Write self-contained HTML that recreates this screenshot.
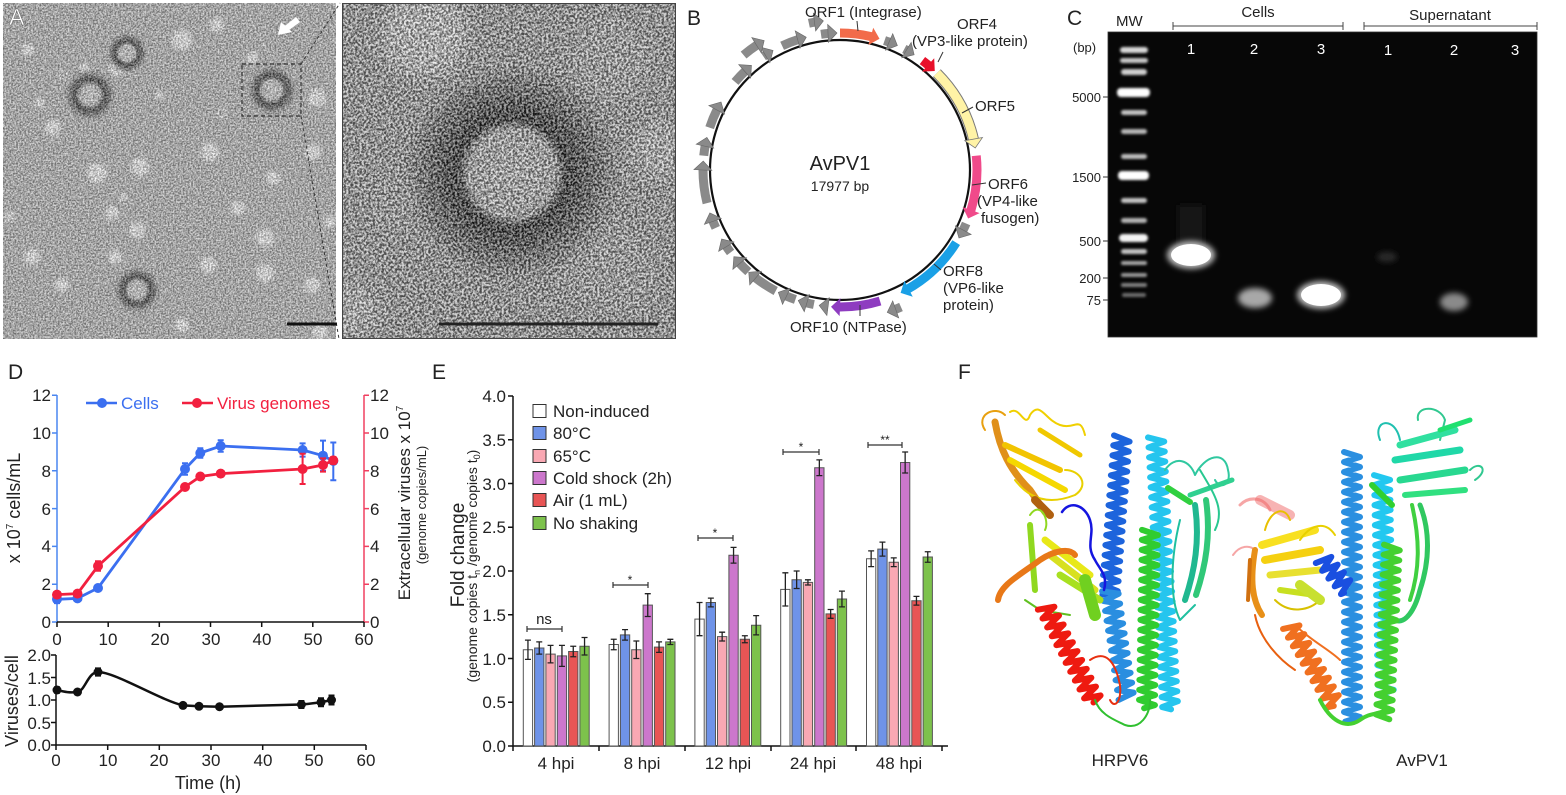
<!DOCTYPE html>
<html><head><meta charset="utf-8"><style>
html,body{margin:0;padding:0;background:#fff;width:1566px;height:795px;overflow:hidden;}
svg{display:block;font-family:"Liberation Sans",Arial,sans-serif;}
</style></head><body>
<svg width="1566" height="795" viewBox="0 0 1566 795" xmlns="http://www.w3.org/2000/svg">
<defs>
<filter id="nz1" x="0" y="0" width="100%" height="100%" color-interpolation-filters="sRGB"><feTurbulence type="fractalNoise" baseFrequency="0.6" numOctaves="3" seed="4"/><feColorMatrix type="matrix" values="2.2 0 0 0 -0.6  2.2 0 0 0 -0.6  2.2 0 0 0 -0.6  0 0 0 0 0.42"/></filter>
<filter id="nz2" x="0" y="0" width="100%" height="100%" color-interpolation-filters="sRGB"><feTurbulence type="fractalNoise" baseFrequency="0.45" numOctaves="3" seed="9"/><feColorMatrix type="matrix" values="2.8 0 0 0 -0.9  2.8 0 0 0 -0.9  2.8 0 0 0 -0.9  0 0 0 0 0.55"/></filter>
<filter id="b1" x="-50%" y="-50%" width="200%" height="200%"><feGaussianBlur stdDeviation="1.5"/></filter>
<filter id="b6" x="-50%" y="-50%" width="200%" height="200%"><feGaussianBlur stdDeviation="7"/></filter>
<filter id="gl" x="-50%" y="-150%" width="200%" height="400%"><feGaussianBlur stdDeviation="1.2"/></filter>
<filter id="gl3" x="-80%" y="-80%" width="260%" height="260%"><feGaussianBlur stdDeviation="3"/></filter>
<radialGradient id="vp"><stop offset="0" stop-color="#dcdcdc"/><stop offset="0.36" stop-color="#c8c8c8"/><stop offset="0.52" stop-color="#444"/><stop offset="0.68" stop-color="#666"/><stop offset="1" stop-color="#bfbfbf" stop-opacity="0"/></radialGradient>
<radialGradient id="vp2"><stop offset="0" stop-color="#c8c8c8"/><stop offset="0.38" stop-color="#b4b4b4"/><stop offset="0.47" stop-color="#1e1e1e"/><stop offset="0.6" stop-color="#383838"/><stop offset="0.8" stop-color="#606060" stop-opacity="0.7"/><stop offset="1" stop-color="#9c9c9c" stop-opacity="0"/></radialGradient>
<clipPath id="cA1"><rect x="3" y="3" width="333" height="336"/></clipPath>
<clipPath id="cA2"><rect x="342" y="3" width="334" height="336"/></clipPath>
<path id="hxL" pathLength="270" fill="none" stroke-linejoin="round" d="M-8,0l16,5l-16,5l16,5l-16,5l16,5l-16,5l16,5l-16,5l16,5l-16,5l16,5l-16,5l16,5l-16,5l16,5l-16,5l16,5l-16,5l16,5l-16,5l16,5l-16,5l16,5l-16,5l16,5l-16,5l16,5l-16,5l16,5l-16,5l16,5l-16,5l16,5l-16,5l16,5l-16,5l16,5l-16,5l16,5l-16,5l16,5l-16,5l16,5l-16,5l16,5l-16,5l16,5l-16,5l16,5l-16,5l16,5l-16,5l16,5l-16,5l16,5l-16,5"/>
<path id="hxS" pathLength="110" fill="none" stroke-linejoin="round" d="M-8,0l16,5l-16,5l16,5l-16,5l16,5l-16,5l16,5l-16,5l16,5l-16,5l16,5l-16,5l16,5l-16,5l16,5l-16,5l16,5l-16,5l16,5l-16,5l16,5l-16,5"/>
<polygon id="hd" points="834,24 834,42 843,33"/>
<polygon id="hdo" points="834,11 834,29 843,20"/>
</defs>

<!-- ============ PANEL A ============ -->
<g clip-path="url(#cA1)">
<rect x="3" y="3" width="333" height="336" fill="#bcbcbc"/>
<g fill="#f8f8f8" filter="url(#b1)">
<circle cx="182" cy="40" r="10"/><circle cx="217" cy="25" r="7"/><circle cx="53" cy="128" r="8"/><circle cx="97" cy="173" r="10"/><circle cx="140" cy="167" r="9"/><circle cx="210" cy="152" r="9"/><circle cx="313" cy="152" r="8"/><circle cx="317" cy="98" r="9"/><circle cx="273" cy="178" r="7"/><circle cx="238" cy="208" r="7"/><circle cx="112" cy="213" r="7"/><circle cx="137" cy="230" r="8"/><circle cx="115" cy="257" r="7"/><circle cx="32" cy="257" r="8"/><circle cx="208" cy="265" r="8"/><circle cx="265" cy="238" r="9"/><circle cx="265" cy="273" r="9"/><circle cx="312" cy="285" r="8"/><circle cx="62" cy="285" r="7"/><circle cx="182" cy="325" r="7"/><circle cx="330" cy="222" r="6"/><circle cx="252" cy="58" r="6"/><circle cx="28" cy="50" r="6"/><circle cx="40" cy="103" r="5"/><circle cx="123" cy="197" r="4"/><circle cx="10" cy="217" r="5"/><circle cx="320" cy="332" r="8"/><circle cx="160" cy="95" r="4"/><circle cx="85" cy="68" r="5"/><circle cx="117" cy="68" r="8"/>
</g>
<circle cx="63" cy="75" r="4" fill="none" stroke="#f0f0f0" stroke-width="1.5"/>
<circle cx="222" cy="113" r="4" fill="none" stroke="#f0f0f0" stroke-width="1.5"/>
<circle cx="90" cy="95" r="28" fill="url(#vp)"/>
<circle cx="127" cy="53" r="22" fill="url(#vp)"/>
<circle cx="272" cy="90" r="27" fill="url(#vp)"/>
<circle cx="137" cy="290" r="25" fill="url(#vp)"/>
<path d="M245,3 C258,40 272,62 298,80 C315,92 325,100 336,112" fill="none" stroke="#e0e0e0" stroke-width="1.2" opacity="0.7"/>
<rect x="3" y="3" width="333" height="336" filter="url(#nz1)"/>
</g>
<g clip-path="url(#cA2)">
<rect x="342" y="3" width="334" height="336" fill="#a4a4a4"/>
<g filter="url(#b6)">
<circle cx="425" cy="35" r="42" fill="#d4d4d4"/><circle cx="660" cy="150" r="28" fill="#c8c8c8"/><circle cx="352" cy="310" r="24" fill="#cccccc"/><circle cx="610" cy="60" r="40" fill="#b4b4b4"/><circle cx="610" cy="270" r="45" fill="#b0b0b0"/><circle cx="400" cy="200" r="30" fill="#acacac"/>
</g>
<circle cx="512" cy="173" r="115" fill="url(#vp2)"/>
<rect x="342" y="3" width="334" height="336" filter="url(#nz2)"/>
</g>
<rect x="342.5" y="3.5" width="333" height="335" fill="none" stroke="#444" stroke-width="1"/>
<text x="9" y="25" font-size="23" fill="#fff" stroke="#555" stroke-width="0.4">A</text>
<polygon points="278,35 281,22 292,32" fill="#fff"/>
<polygon points="285,26 289,30 300,22 296,17" fill="#fff"/>
<rect x="242" y="64" width="59" height="52" fill="none" stroke="#333" stroke-width="1.2" stroke-dasharray="4,3"/>
<line x1="301" y1="64" x2="340" y2="3" stroke="#333" stroke-width="1" stroke-dasharray="3,3"/>
<line x1="301" y1="116" x2="339" y2="339" stroke="#333" stroke-width="1" stroke-dasharray="3,3"/>
<line x1="287" y1="324" x2="337" y2="324" stroke="#111" stroke-width="3"/>
<line x1="439" y1="324" x2="658" y2="324" stroke="#222" stroke-width="3"/>

<!-- ============ PANEL B ============ -->
<text x="687" y="25" font-size="21" fill="#222">B</text>
<circle cx="840" cy="170" r="130" fill="none" stroke="#111" stroke-width="2.2"/>
<g fill="none" stroke-width="9" transform="rotate(-90 840 170)">
<circle cx="840" cy="170" r="137" pathLength="360" stroke="#7a7a7a" stroke-width="11" stroke-dasharray="32.5 600" stroke-dashoffset="-45"/>
<circle cx="840" cy="170" r="137" pathLength="360" stroke="#f26b4a" stroke-dasharray="13.5 600" stroke-dashoffset="0"/>
<circle cx="840" cy="170" r="137" pathLength="360" stroke="#e8102a" stroke-dasharray="3.5 600" stroke-dashoffset="-37"/>
<circle cx="840" cy="170" r="137" pathLength="360" stroke="#fff3a6" stroke-dasharray="32.5 600" stroke-dashoffset="-45"/>
<circle cx="840" cy="170" r="137" pathLength="360" stroke="#f04a8a" stroke-dasharray="23.5 600" stroke-dashoffset="-84"/>
<circle cx="840" cy="170" r="137" pathLength="360" stroke="#1aa0e6" stroke-dasharray="28.5 600" stroke-dashoffset="-122"/>
<circle cx="840" cy="170" r="137" pathLength="360" stroke="#8e3cc0" stroke-dasharray="17.5 600" stroke-dashoffset="-163"/>
<g stroke="#8a8a8a">
<circle cx="840" cy="170" r="137" pathLength="360" stroke-dasharray="2.5 600" stroke-dashoffset="-19"/>
<circle cx="840" cy="170" r="137" pathLength="360" stroke-dasharray="1.5 600" stroke-dashoffset="-28"/>
<circle cx="840" cy="170" r="137" pathLength="360" stroke-dasharray="3.5 600" stroke-dashoffset="-113"/>
<circle cx="840" cy="170" r="137" pathLength="360" stroke-dasharray="0.5 600" stroke-dashoffset="-185"/>
<circle cx="840" cy="170" r="137" pathLength="360" stroke-dasharray="3.5 600" stroke-dashoffset="-191"/>
<circle cx="840" cy="170" r="137" pathLength="360" stroke-dasharray="4.5 600" stroke-dashoffset="-199"/>
<circle cx="840" cy="170" r="137" pathLength="360" stroke-dasharray="10.5 600" stroke-dashoffset="-208"/>
<circle cx="840" cy="170" r="137" pathLength="360" stroke-dasharray="5.5 600" stroke-dashoffset="-222"/>
<circle cx="840" cy="170" r="137" pathLength="360" stroke-dasharray="3.5 600" stroke-dashoffset="-233"/>
<circle cx="840" cy="170" r="137" pathLength="360" stroke-dasharray="3.5 600" stroke-dashoffset="-245"/>
<circle cx="840" cy="170" r="137" pathLength="360" stroke-dasharray="14.5 600" stroke-dashoffset="-256"/>
<circle cx="840" cy="170" r="137" pathLength="360" stroke-dasharray="4.5 600" stroke-dashoffset="-276"/>
<circle cx="840" cy="170" r="137" pathLength="360" stroke-dasharray="8.5 600" stroke-dashoffset="-288"/>
<circle cx="840" cy="170" r="137" pathLength="360" stroke-dasharray="6.5 600" stroke-dashoffset="-310"/>
<circle cx="840" cy="170" r="137" pathLength="360" stroke-dasharray="1.5 600" stroke-dashoffset="-326"/>
<circle cx="840" cy="170" r="137" pathLength="360" stroke-dasharray="7.5 600" stroke-dashoffset="-335"/>
<circle cx="840" cy="170" r="137" pathLength="360" stroke-dasharray="3.5 600" stroke-dashoffset="-352"/>
<circle cx="840" cy="170" r="150" pathLength="360" stroke-dasharray="2.5 600" stroke-dashoffset="-156"/>
<circle cx="840" cy="170" r="150" pathLength="360" stroke-dasharray="6.5 600" stroke-dashoffset="-320"/>
<circle cx="840" cy="170" r="150" pathLength="360" stroke-dasharray="2.5 600" stroke-dashoffset="-348"/>
</g>
</g>
<use href="#hd" fill="#f26b4a" transform="rotate(15.5 840 170)"/>
<use href="#hd" fill="#e8102a" transform="rotate(42.5 840 170)"/>
<use href="#hd" fill="#fff3a6" stroke="#777" stroke-width="0.8" transform="rotate(79.5 840 170)"/>
<use href="#hd" fill="#f04a8a" transform="rotate(109.5 840 170)"/>
<use href="#hd" fill="#1aa0e6" transform="rotate(152.5 840 170)"/>
<use href="#hd" fill="#8e3cc0" transform="rotate(182.5 840 170)"/>
<g fill="#8a8a8a" stroke="#666" stroke-width="0.6">
<use href="#hd" transform="rotate(23.5 840 170)"/><use href="#hd" transform="rotate(31.5 840 170)"/><use href="#hd" transform="rotate(118.5 840 170)"/><use href="#hd" transform="rotate(187.5 840 170)"/><use href="#hd" transform="rotate(196.5 840 170)"/><use href="#hd" transform="rotate(205.5 840 170)"/><use href="#hd" transform="rotate(220.5 840 170)"/><use href="#hd" transform="rotate(229.5 840 170)"/><use href="#hd" transform="rotate(238.5 840 170)"/><use href="#hd" transform="rotate(250.5 840 170)"/><use href="#hd" transform="rotate(272.5 840 170)"/><use href="#hd" transform="rotate(282.5 840 170)"/><use href="#hd" transform="rotate(298.5 840 170)"/><use href="#hd" transform="rotate(318.5 840 170)"/><use href="#hd" transform="rotate(329.5 840 170)"/><use href="#hd" transform="rotate(344.5 840 170)"/><use href="#hd" transform="rotate(357.5 840 170)"/>
<use href="#hdo" transform="rotate(160.5 840 170)"/><use href="#hdo" transform="rotate(328.5 840 170)"/><use href="#hdo" transform="rotate(352.5 840 170)"/>
</g>
<g stroke="#333" stroke-width="1">
<line x1="857" y1="21" x2="858" y2="31"/><line x1="943" y1="52" x2="938" y2="62"/><line x1="962" y1="113" x2="973" y2="107"/><line x1="972" y1="185" x2="986" y2="183"/><line x1="934" y1="264" x2="941" y2="270"/><line x1="860" y1="305" x2="860" y2="316"/>
</g>
<g font-size="15" fill="#222">
<text x="805" y="17">ORF1 (Integrase)</text>
<text x="957" y="29">ORF4</text>
<text x="912" y="46">(VP3-like protein)</text>
<text x="975" y="111">ORF5</text>
<text x="988" y="189">ORF6</text>
<text x="977" y="206">(VP4-like</text>
<text x="981" y="223">fusogen)</text>
<text x="943" y="276">ORF8</text>
<text x="943" y="293">(VP6-like</text>
<text x="943" y="310">protein)</text>
<text x="790" y="332">ORF10 (NTPase)</text>
</g>
<text x="840" y="170" font-size="20" fill="#222" text-anchor="middle">AvPV1</text>
<text x="840" y="191" font-size="14" fill="#222" text-anchor="middle">17977 bp</text>

<!-- ============ PANEL C ============ -->
<text x="1067" y="25" font-size="21" fill="#222">C</text>
<text x="1116" y="26" font-size="15" fill="#222">MW</text>
<text x="1258" y="17" font-size="15" fill="#222" text-anchor="middle">Cells</text>
<text x="1450" y="20" font-size="15" fill="#222" text-anchor="middle">Supernatant</text>
<path d="M1173,26 H1343 M1173,22 V30 M1343,22 V30 M1364,26 H1537 M1364,22 V30 M1537,22 V30" stroke="#444" stroke-width="1" fill="none"/>
<text x="1073" y="52" font-size="13" fill="#222">(bp)</text>
<g font-size="13" fill="#222" text-anchor="end">
<text x="1101" y="102">5000</text><text x="1101" y="182">1500</text><text x="1101" y="246">500</text><text x="1101" y="283">200</text><text x="1101" y="305">75</text>
</g>
<path d="M1103,97 H1108 M1103,177 H1108 M1103,241 H1108 M1103,278 H1108 M1103,300 H1108" stroke="#333" stroke-width="1"/>
<rect x="1108" y="32" width="429" height="305" fill="#070707" stroke="#333" stroke-width="0.8"/>
<g filter="url(#gl)">
<rect x="1120" y="47" width="28" height="6" rx="3" fill="#d8d8d8"/>
<rect x="1120" y="58" width="28" height="5" rx="2.5" fill="#c8c8c8"/>
<rect x="1121" y="69" width="26" height="6" rx="3" fill="#cfcfcf"/>
<rect x="1117" y="88" width="33" height="9" rx="4" fill="#ffffff"/>
<rect x="1121" y="110" width="26" height="5" rx="2.5" fill="#c4c4c4"/>
<rect x="1121" y="129" width="26" height="5" rx="2.5" fill="#b8b8b8"/>
<rect x="1121" y="154" width="26" height="5" rx="2.5" fill="#bcbcbc"/>
<rect x="1118" y="171" width="31" height="9" rx="4" fill="#ffffff"/>
<rect x="1121" y="198" width="26" height="5" rx="2.5" fill="#c4c4c4"/>
<rect x="1121" y="218" width="26" height="5" rx="2.5" fill="#b4b4b4"/>
<rect x="1119" y="234" width="29" height="8" rx="4" fill="#f4f4f4"/>
<rect x="1121" y="249" width="26" height="5" rx="2.5" fill="#c4c4c4"/>
<rect x="1121" y="261" width="26" height="4" rx="2" fill="#a8a8a8"/>
<rect x="1121" y="273" width="26" height="4" rx="2" fill="#989898"/>
<rect x="1121" y="283" width="26" height="4" rx="2" fill="#808080"/>
<rect x="1122" y="293" width="24" height="4" rx="2" fill="#6c6c6c"/>
</g>
<rect x="1178" y="205" width="26" height="40" fill="#161616" filter="url(#gl3)"/>
<ellipse cx="1191" cy="255" rx="24" ry="14" fill="#bbb" filter="url(#gl3)"/>
<ellipse cx="1191" cy="255" rx="20" ry="11" fill="#fff"/>
<ellipse cx="1255" cy="298" rx="17" ry="10" fill="#a8a8a8" filter="url(#gl3)"/>
<ellipse cx="1321" cy="295" rx="24" ry="14" fill="#bbb" filter="url(#gl3)"/>
<ellipse cx="1321" cy="295" rx="20" ry="11" fill="#fff"/>
<ellipse cx="1454" cy="302" rx="14" ry="9" fill="#8a8a8a" filter="url(#gl3)"/>
<ellipse cx="1387" cy="257" rx="10" ry="5" fill="#2a2a2a" filter="url(#gl3)"/>
<g font-size="15" fill="#fff" text-anchor="middle">
<text x="1191" y="54">1</text><text x="1254" y="54">2</text><text x="1321" y="54">3</text><text x="1388" y="55">1</text><text x="1454" y="55">2</text><text x="1515" y="55">3</text>
</g>

<!-- ============ PANEL D ============ -->
<text x="8" y="379" font-size="21" fill="#222">D</text>
<line x1="57" y1="395" x2="57" y2="622" stroke="#4a86f0" stroke-width="1.5"/>
<path d="M52,622H57M52,584.2H57M52,546.4H57M52,508.6H57M52,470.8H57M52,433H57M52,395.2H57" stroke="#4a86f0" stroke-width="1.5"/>
<line x1="364" y1="395" x2="364" y2="622" stroke="#f04060" stroke-width="1.5"/>
<path d="M364,622H369M364,584.2H369M364,546.4H369M364,508.6H369M364,470.8H369M364,433H369M364,395.2H369" stroke="#f04060" stroke-width="1.5"/>
<line x1="57" y1="622" x2="364" y2="622" stroke="#111" stroke-width="1.5"/>
<path d="M57,622V627M108.2,622V627M159.3,622V627M210.5,622V627M261.7,622V627M312.8,622V627M364,622V627" stroke="#111" stroke-width="1.5"/>
<g font-size="17" fill="#222" text-anchor="end">
<text x="51" y="628">0</text><text x="51" y="590">2</text><text x="51" y="552">4</text><text x="51" y="515">6</text><text x="51" y="477">8</text><text x="51" y="439">10</text><text x="51" y="401">12</text>
</g>
<g font-size="17" fill="#222">
<text x="370" y="628">0</text><text x="370" y="590">2</text><text x="370" y="552">4</text><text x="370" y="515">6</text><text x="370" y="477">8</text><text x="370" y="439">10</text><text x="370" y="401">12</text>
</g>
<g font-size="17" fill="#222" text-anchor="middle">
<text x="57" y="645">0</text><text x="108" y="645">10</text><text x="160" y="645">20</text><text x="211" y="645">30</text><text x="262" y="645">40</text><text x="313" y="645">50</text><text x="364" y="645">60</text>
</g>
<text transform="translate(20,508) rotate(-90)" font-size="18" fill="#222" text-anchor="middle">x 10<tspan font-size="10" dy="-7">7</tspan><tspan dy="7"> cells/mL</tspan></text>
<text transform="translate(410,503) rotate(-90)" font-size="17" fill="#222" text-anchor="middle">Extracellular viruses x 10<tspan font-size="10" dy="-7">7</tspan></text>
<text transform="translate(426,505) rotate(-90)" font-size="13" fill="#222" text-anchor="middle">(genome copies/mL)</text>
<line x1="86" y1="403" x2="117" y2="403" stroke="#3b6ff0" stroke-width="2.5"/><circle cx="102" cy="403" r="5" fill="#3b6ff0"/>
<text x="121" y="409" font-size="17" fill="#3b6ff0">Cells</text>
<line x1="182" y1="403" x2="213" y2="403" stroke="#f2203f" stroke-width="2.5"/><circle cx="197" cy="403" r="5" fill="#f2203f"/>
<text x="217" y="409" font-size="17" fill="#f2203f">Virus genomes</text>
<g stroke="#3b6ff0" stroke-width="2" fill="none">
<polyline stroke-width="2.8" points="57,599.3 77.5,598.4 98,588 185,469 200.3,453 220.7,446 302.6,450 323,455.7 333.3,461"/>
<path d="M57,595.5V603.1M54,595.5h6M54,603.1h6 M185,463.3V474.7M182,463.3h6M182,474.7h6 M200.3,448.3V457.7M197.3,448.3h6M197.3,457.7h6 M220.7,440.3V451.7M217.7,440.3h6M217.7,451.7h6 M302.6,443.4V456.6M299.6,443.4h6M299.6,456.6h6 M323,440.6V470.8M320,440.6h6M320,470.8h6 M333.3,442.5V480.3M330.3,442.5h6M330.3,480.3h6"/>
</g>
<g fill="#3b6ff0"><circle cx="57" cy="599.3" r="5"/><circle cx="77.5" cy="598.4" r="5"/><circle cx="98" cy="588" r="5"/><circle cx="185" cy="469" r="5"/><circle cx="200.3" cy="453" r="5"/><circle cx="220.7" cy="446" r="5"/><circle cx="302.6" cy="450" r="5"/><circle cx="323" cy="455.7" r="5"/><circle cx="333.3" cy="461" r="5"/></g>
<g stroke="#f2203f" stroke-width="2" fill="none">
<polyline stroke-width="2.8" points="57,594.6 77.5,593.6 98,566 185,487 200.3,476.5 220.7,473.6 302.6,469 323,465 333.3,460.4"/>
<path d="M98,561.3V570.7M95,561.3h6M95,570.7h6 M302.6,453.8V484M299.6,453.8h6M299.6,484h6 M323,458.4V471.6M320,458.4h6M320,471.6h6 M333.3,457V464M330.3,457h6M330.3,464h6"/>
</g>
<g fill="#f2203f"><circle cx="57" cy="594.6" r="5"/><circle cx="77.5" cy="593.6" r="5"/><circle cx="98" cy="566" r="5"/><circle cx="185" cy="487" r="5"/><circle cx="200.3" cy="476.5" r="5"/><circle cx="220.7" cy="473.6" r="5"/><circle cx="302.6" cy="469" r="5"/><circle cx="323" cy="465" r="5"/><circle cx="333.3" cy="460.4" r="5"/></g>
<path d="M56,655V745H366" fill="none" stroke="#111" stroke-width="1.5"/>
<path d="M51,745H56M51,722.5H56M51,700H56M51,677.5H56M51,655H56 M56,745V750M107.7,745V750M159.3,745V750M211,745V750M262.7,745V750M314.3,745V750M366,745V750" stroke="#111" stroke-width="1.5"/>
<g font-size="17" fill="#222" text-anchor="end">
<text x="51" y="751">0.0</text><text x="51" y="729">0.5</text><text x="51" y="706">1.0</text><text x="51" y="684">1.5</text><text x="51" y="661">2.0</text>
</g>
<g font-size="17" fill="#222" text-anchor="middle">
<text x="56" y="766">0</text><text x="108" y="766">10</text><text x="159" y="766">20</text><text x="211" y="766">30</text><text x="263" y="766">40</text><text x="314" y="766">50</text><text x="366" y="766">60</text>
</g>
<text x="208" y="789" font-size="18" fill="#222" text-anchor="middle">Time (h)</text>
<text transform="translate(18,701) rotate(-90)" font-size="18" fill="#222" text-anchor="middle">Viruses/cell</text>
<path d="M57,690 C65,692 70,693 77.5,692 C85,691 88,672 98,672 C115,672 160,700 183,705.4 L199,706.3 L219.5,706.75 L301.4,704.5 C310,704 315,703 321,702.25 L331.5,700" fill="none" stroke="#111" stroke-width="2.5"/>
<path d="M57,687.3V692.7M54,687.3h6M54,692.7h6 M98,668.4V675.6M95,668.4h6M95,675.6h6 M301.4,701V708M298.4,701h6M298.4,708h6 M321,698.2V706.3M318,698.2h6M318,706.3h6 M331.5,695.5V704.5M328.5,695.5h6M328.5,704.5h6" stroke="#111" stroke-width="2" fill="none"/>
<g fill="#111"><circle cx="57" cy="690" r="4.5"/><circle cx="77.5" cy="692" r="4.5"/><circle cx="98" cy="672" r="4.5"/><circle cx="183" cy="705.4" r="4.5"/><circle cx="199" cy="706.3" r="4.5"/><circle cx="219.5" cy="706.75" r="4.5"/><circle cx="301.4" cy="704.5" r="4.5"/><circle cx="321" cy="702.25" r="4.5"/><circle cx="331.5" cy="700" r="4.5"/></g>

<!-- ============ PANEL E ============ -->
<text x="432" y="379" font-size="21" fill="#222">E</text>
<path d="M513,396V746H948" fill="none" stroke="#111" stroke-width="1.5"/>
<path d="M508,746H513M508,702.25H513M508,658.5H513M508,614.75H513M508,571H513M508,527.25H513M508,483.5H513M508,439.75H513M508,396H513 M513,746V751M599,746V751M685,746V751M771,746V751M856,746V751M942,746V751" stroke="#111" stroke-width="1.5"/>
<g font-size="17" fill="#222" text-anchor="end">
<text x="506" y="752">0.0</text><text x="506" y="708">0.5</text><text x="506" y="665">1.0</text><text x="506" y="621">1.5</text><text x="506" y="577">2.0</text><text x="506" y="533">2.5</text><text x="506" y="490">3.0</text><text x="506" y="446">3.5</text><text x="506" y="402">4.0</text>
</g>
<g font-size="17" fill="#222" text-anchor="middle">
<text x="556" y="769">4 hpi</text><text x="642" y="769">8 hpi</text><text x="728" y="769">12 hpi</text><text x="813" y="769">24 hpi</text><text x="899" y="769">48 hpi</text>
</g>
<text transform="translate(464,555) rotate(-90)" font-size="19" fill="#222" text-anchor="middle">Fold change</text>
<text transform="translate(477,566) rotate(-90)" font-size="14" fill="#222" text-anchor="middle">(genome copies t<tspan font-size="9" dy="3">n</tspan><tspan dy="-3"> /genome copies t</tspan><tspan font-size="9" dy="3">0</tspan><tspan dy="-3">)</tspan></text>
<g stroke="#555" stroke-width="1">
<g fill="#ffffff"><rect x="523.3" y="649.75" width="9.3" height="96.25"/><rect x="609.1" y="644.5" width="9.3" height="101.5"/><rect x="694.9" y="619.1" width="9.3" height="126.9"/><rect x="780.7" y="589.4" width="9.3" height="156.6"/><rect x="866.5" y="558.75" width="9.3" height="187.25"/></g>
<g fill="#6f93e8"><rect x="534.6" y="648" width="9.3" height="98"/><rect x="620.4" y="634.9" width="9.3" height="111.1"/><rect x="706.2" y="602.5" width="9.3" height="143.5"/><rect x="792" y="579.75" width="9.3" height="166.25"/><rect x="877.8" y="549.1" width="9.3" height="196.9"/></g>
<g fill="#f9a8b3"><rect x="545.9" y="654.1" width="9.3" height="91.9"/><rect x="631.7" y="649.75" width="9.3" height="96.25"/><rect x="717.5" y="636.6" width="9.3" height="109.4"/><rect x="803.3" y="582.4" width="9.3" height="163.6"/><rect x="889.1" y="562.25" width="9.3" height="183.75"/></g>
<g fill="#cc77cc"><rect x="557.3" y="655.9" width="9.3" height="90.1"/><rect x="643.1" y="605.1" width="9.3" height="140.9"/><rect x="728.9" y="555.25" width="9.3" height="190.75"/><rect x="814.7" y="467.75" width="9.3" height="278.25"/><rect x="900.5" y="462.5" width="9.3" height="283.5"/></g>
<g fill="#e85555"><rect x="568.6" y="651.5" width="9.3" height="94.5"/><rect x="654.4" y="647.1" width="9.3" height="98.9"/><rect x="740.2" y="639.25" width="9.3" height="106.75"/><rect x="826" y="613.9" width="9.3" height="132.1"/><rect x="911.8" y="600.75" width="9.3" height="145.25"/></g>
<g fill="#7dc24c"><rect x="579.9" y="646.25" width="9.3" height="99.75"/><rect x="665.7" y="641.9" width="9.3" height="104.1"/><rect x="751.5" y="625.25" width="9.3" height="120.75"/><rect x="837.3" y="599" width="9.3" height="147"/><rect x="923.1" y="557" width="9.3" height="189"/></g>
</g>
<path fill="none" stroke="#222" stroke-width="1.3" d="
M527.95,640.15V659.35M524.95,640.15h6M524.95,659.35h6
M539.25,641.9V654.1M536.25,641.9h6M536.25,654.1h6
M550.55,645.35V662.85M547.55,645.35h6M547.55,662.85h6
M561.95,645.4V666.4M558.95,645.4h6M558.95,666.4h6
M573.25,646.25V656.75M570.25,646.25h6M570.25,656.75h6
M584.55,637.5V655M581.55,637.5h6M581.55,655h6
M613.75,639.25V649.75M610.75,639.25h6M610.75,649.75h6
M625.05,629.65V640.15M622.05,629.65h6M622.05,640.15h6
M636.35,641V658.5M633.35,641h6M633.35,658.5h6
M647.75,593.7V616.5M644.75,593.7h6M644.75,616.5h6
M659.05,641.85V652.35M656.05,641.85h6M656.05,652.35h6
M670.35,639.3V644.5M667.35,639.3h6M667.35,644.5h6
M699.55,602.5V635.7M696.55,602.5h6M696.55,635.7h6
M710.85,598.1V606.9M707.85,598.1h6M707.85,606.9h6
M722.15,632.2V641M719.15,632.2h6M719.15,641h6
M733.55,547.35V563.15M730.55,547.35h6M730.55,563.15h6
M744.85,635.75V642.75M741.85,635.75h6M741.85,642.75h6
M756.15,615.65V634.85M753.15,615.65h6M753.15,634.85h6
M785.35,572.8V606M782.35,572.8h6M782.35,606h6
M796.65,571V588.5M793.65,571h6M793.65,588.5h6
M807.95,579.8V585M804.95,579.8h6M804.95,585h6
M819.35,459.85V475.65M816.35,459.85h6M816.35,475.65h6
M830.65,609.5V618.3M827.65,609.5h6M827.65,618.3h6
M841.95,591.1V606.9M838.95,591.1h6M838.95,606.9h6
M871.15,550.85V566.65M868.15,550.85h6M868.15,566.65h6
M882.45,542.1V556.1M879.45,542.1h6M879.45,556.1h6
M893.75,557.85V566.65M890.75,557.85h6M890.75,566.65h6
M905.15,452V473M902.15,452h6M902.15,473h6
M916.45,596.35V605.15M913.45,596.35h6M913.45,605.15h6
M927.75,551.75V562.25M924.75,551.75h6M924.75,562.25h6"/>
<path fill="none" stroke="#333" stroke-width="1.2" d="M527,629H562M527,626V632M562,626V632 M613,585H648M613,582V588M648,582V588 M698,538H733M698,535V541M733,535V541 M783,452H819M783,449V455M819,449V455 M868,445H902M868,442V448M902,442V448"/>
<text x="544" y="624" font-size="15" fill="#222" text-anchor="middle">ns</text>
<g font-size="12" fill="#222" text-anchor="middle">
<text x="630" y="584">*</text><text x="715" y="537">*</text><text x="801" y="451">*</text><text x="885" y="444">**</text>
</g>
<g stroke="#333" stroke-width="1">
<rect x="533" y="404.5" width="13" height="13" fill="#fff"/>
<rect x="533" y="426.5" width="13" height="13" fill="#6f93e8"/>
<rect x="533" y="449.5" width="13" height="13" fill="#f9a8b3"/>
<rect x="533" y="471.5" width="13" height="13" fill="#cc77cc"/>
<rect x="533" y="493.5" width="13" height="13" fill="#e85555"/>
<rect x="533" y="516.5" width="13" height="13" fill="#7dc24c"/>
</g>
<g font-size="17" fill="#222">
<text x="553" y="417">Non-induced</text><text x="553" y="439">80°C</text><text x="553" y="462">65°C</text><text x="553" y="484">Cold shock (2h)</text><text x="553" y="506">Air (1 mL)</text><text x="553" y="529">No shaking</text>
</g>

<!-- ============ PANEL F ============ -->
<text x="958" y="379" font-size="21" fill="#222">F</text>
<text x="1120" y="766" font-size="17" fill="#222" text-anchor="middle">HRPV6</text>
<text x="1422" y="766" font-size="17" fill="#222" text-anchor="middle">AvPV1</text>
<g fill="none" stroke-linecap="round" stroke-linejoin="round">
<use href="#hxL" stroke="#25c5ee" stroke-width="6" stroke-dasharray="263 1000" transform="translate(1156,437) rotate(-3)"/>
<path d="M1165,470 C1175,455 1190,460 1195,475 C1205,455 1225,450 1228,470 C1232,485 1220,490 1215,480" stroke="#30c8a0" stroke-width="2"/>
<path d="M1190,495 L1232,480" stroke="#30d090" stroke-width="5"/>
<path d="M1195,505 C1200,540 1195,570 1185,600" stroke="#20b890" stroke-width="6"/>
<path d="M1206,500 C1211,535 1206,565 1196,595" stroke="#30c878" stroke-width="6"/>
<path d="M1180,520 C1170,560 1170,600 1180,620 L1195,605" stroke="#20c0a0" stroke-width="2"/>
<path d="M1168,488 L1190,502" stroke="#30d040" stroke-width="6"/>
<path d="M1200,470 C1215,495 1225,510 1215,530" stroke="#28c890" stroke-width="2"/>
<use href="#hxL" stroke="#30cc30" stroke-width="6" stroke-dasharray="172 1000" transform="translate(1150,530) rotate(1)"/>
<use href="#hxL" stroke="#1d64dc" stroke-width="6" stroke-dasharray="154 1000" transform="translate(1122,436) rotate(4.5)"/>
<use href="#hxS" stroke="#2a8ee0" stroke-width="6" stroke-dasharray="110 1000" transform="translate(1110,590) rotate(-8.6)"/>
<path d="M1010,412 C1020,405 1025,430 1030,415 C1040,400 1045,420 1060,425 C1075,430 1080,415 1085,435" stroke="#f0d000" stroke-width="2"/>
<path d="M985,430 C975,415 995,405 1005,415" stroke="#e8a010" stroke-width="2"/>
<path d="M995,422 C1000,450 1010,470 1030,490 L1045,512" stroke="#e0901a" stroke-width="7"/>
<path d="M1005,445 L1060,470" stroke="#f2c400" stroke-width="6"/>
<path d="M1010,460 L1065,490" stroke="#f5d800" stroke-width="6"/>
<path d="M1040,430 L1080,455" stroke="#f0c800" stroke-width="5"/>
<path d="M1015,480 C1030,500 1050,505 1075,495 C1090,485 1080,470 1065,470" stroke="#e8d000" stroke-width="2"/>
<path d="M1035,500 L1050,515" stroke="#b06010" stroke-width="8"/>
<path d="M1062,512 C1070,500 1085,505 1090,520 C1095,535 1085,545 1095,560 C1100,570 1108,575 1104,590" stroke="#1515e0" stroke-width="2.5"/>
<path d="M1030,525 L1035,590" stroke="#90d820" stroke-width="6"/>
<path d="M1045,540 L1090,575" stroke="#e8e818" stroke-width="7"/>
<path d="M1050,555 L1095,590" stroke="#d8e020" stroke-width="7"/>
<path d="M1060,575 L1100,600" stroke="#a8e020" stroke-width="7"/>
<path d="M1085,580 L1095,615" stroke="#70d020" stroke-width="12"/>
<path d="M998,600 C1000,585 1020,575 1040,560 C1055,550 1070,548 1075,555" stroke="#e87818" stroke-width="6"/>
<path d="M1030,515 C1040,500 1050,520 1045,530" stroke="#90d820" stroke-width="2"/>
<path d="M1025,600 L1040,610 L1070,615" stroke="#60c020" stroke-width="2"/>
<use href="#hxS" stroke="#ee1a10" stroke-width="6" stroke-dasharray="108 1000" transform="translate(1045,606) rotate(-27.5)"/>
<path d="M1090,660 C1105,650 1115,660 1120,685 C1122,700 1115,710 1110,700" stroke="#e83010" stroke-width="2"/>
<path d="M1095,700 C1100,715 1115,720 1125,725 C1140,730 1150,715 1150,700" stroke="#30c030" stroke-width="2"/>
</g>
<g fill="none" stroke-linecap="round" stroke-linejoin="round">
<use href="#hxL" stroke="#22c8f0" stroke-width="6" stroke-dasharray="215 1000" transform="translate(1382,475) rotate(-1)"/>
<path d="M1418,420 C1415,405 1440,405 1445,420 L1440,440" stroke="#30c890" stroke-width="2"/>
<path d="M1380,440 C1372,420 1395,415 1400,440" stroke="#20c0b0" stroke-width="2"/>
<path d="M1470,470 C1480,460 1490,470 1475,480" stroke="#30c890" stroke-width="2"/>
<path d="M1400,445 L1455,430" stroke="#30e0a0" stroke-width="7"/>
<path d="M1395,460 L1460,450" stroke="#20d8a8" stroke-width="7"/>
<path d="M1400,480 L1465,470" stroke="#28d890" stroke-width="7"/>
<path d="M1405,495 L1465,490" stroke="#30e080" stroke-width="6"/>
<path d="M1440,430 L1470,420" stroke="#20e070" stroke-width="5"/>
<path d="M1420,505 C1430,530 1430,560 1420,590 C1415,610 1405,625 1395,620" stroke="#30c860" stroke-width="5"/>
<path d="M1412,505 C1420,540 1420,570 1410,600" stroke="#40d040" stroke-width="4"/>
<path d="M1372,485 L1392,505" stroke="#30d030" stroke-width="6"/>
<use href="#hxL" stroke="#2b8fe0" stroke-width="6" stroke-dasharray="260 1000" transform="translate(1352,452)"/>
<use href="#hxL" stroke="#44d030" stroke-width="6" stroke-dasharray="168 1000" transform="translate(1392,545) rotate(2.7)"/>
<path d="M1260,500 L1290,515" stroke="#f07575" stroke-width="10" opacity="0.55"/>
<path d="M1240,505 C1250,495 1265,498 1270,510" stroke="#f06a6a" stroke-width="3" opacity="0.6"/>
<path d="M1233,555 C1240,545 1250,545 1255,550" stroke="#f06a6a" stroke-width="2" opacity="0.6"/>
<path d="M1262,545 L1315,530" stroke="#f8e020" stroke-width="8"/>
<path d="M1265,560 L1320,550" stroke="#f5d010" stroke-width="8"/>
<path d="M1270,575 L1320,570" stroke="#e8e030" stroke-width="7"/>
<path d="M1280,590 L1315,595" stroke="#c8e020" stroke-width="6"/>
<path d="M1255,550 C1250,580 1252,600 1262,615" stroke="#e89018" stroke-width="6"/>
<path d="M1250,560 L1248,600" stroke="#d07010" stroke-width="4"/>
<path d="M1265,530 C1270,510 1285,505 1290,520" stroke="#e8c000" stroke-width="2"/>
<path d="M1300,540 C1310,525 1325,520 1335,535" stroke="#e8d000" stroke-width="2"/>
<path d="M1275,600 C1290,615 1310,610 1320,600" stroke="#d8c000" stroke-width="2"/>
<path d="M1300,585 L1320,600" stroke="#c8e030" stroke-width="10"/>
<path d="M1255,615 C1260,640 1280,660 1295,670" stroke="#e86010" stroke-width="2"/>
<path d="M1295,625 C1310,640 1330,650 1340,660" stroke="#f07020" stroke-width="2"/>
<use href="#hxS" stroke="#1a4fe0" stroke-width="6" stroke-dasharray="41 1000" transform="translate(1322,558) rotate(-39)"/>
<use href="#hxS" stroke="#f07020" stroke-width="6" stroke-dasharray="92 1000" transform="translate(1290,625) rotate(-29.4)"/>
<path d="M1320,700 C1330,720 1345,730 1360,720 C1370,712 1380,715 1385,710" stroke="#44d030" stroke-width="4"/>
</g>
</svg>
</body></html>
